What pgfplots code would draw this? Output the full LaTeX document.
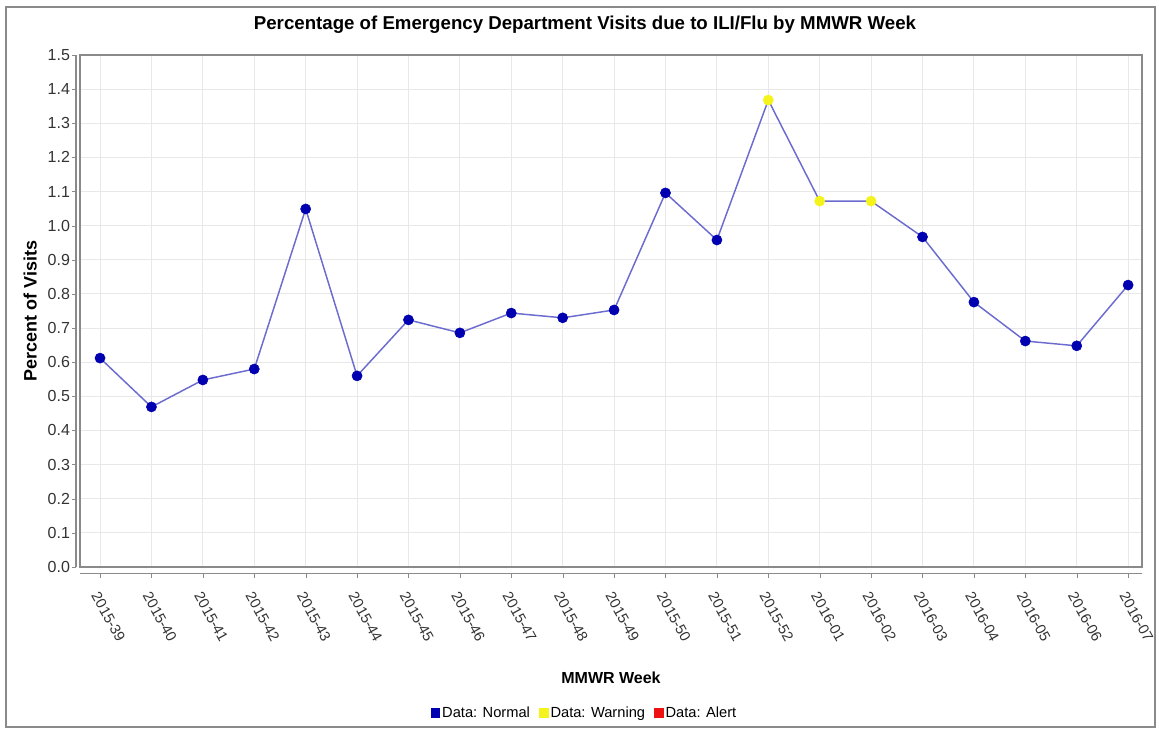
\documentclass[border=0pt]{standalone}
\usepackage{pgfplots}
\pgfplotsset{compat=1.18}
\usepackage{fontspec}
\setmainfont{Liberation Sans}
\definecolor{linec}{HTML}{6B6BD0}
\definecolor{normc}{HTML}{0000B0}
\definecolor{warnc}{HTML}{F4F41C}
\definecolor{alertc}{HTML}{EE1111}
\definecolor{gridc}{HTML}{E8E8E8}
\definecolor{tickc}{HTML}{333333}
\definecolor{framec}{HTML}{8A8A8A}

\pgfplotstableread{
x y
0 0.612
1 0.469
2 0.548
3 0.580
4 1.049
5 0.560
6 0.724
7 0.686
8 0.744
9 0.730
10 0.753
11 1.096
12 0.958
13 1.368
14 1.072
15 1.072
16 0.967
17 0.776
18 0.662
19 0.648
20 0.826
}\alldata

\pgfplotstableread{
x y
0 0.612
1 0.469
2 0.548
3 0.580
4 1.049
5 0.560
6 0.724
7 0.686
8 0.744
9 0.730
10 0.753
11 1.096
12 0.958
16 0.967
17 0.776
18 0.662
19 0.648
20 0.826
}\normaldata

\pgfplotstableread{
x y
13 1.368
14 1.072
15 1.072
}\warndata

\begin{document}
\begin{tikzpicture}
\draw[framec, line width=1.4pt] (4.5pt,-5.5pt) rectangle (866pt,-545pt);
\begin{axis}[
  at={(60pt,-425.25pt)}, anchor=south west,
  scale only axis, width=796.5pt, height=384pt,
  xmin=-0.39, xmax=20.27, ymin=0, ymax=1.5,
  xtick={0,...,20},
  xticklabels={2015-39,2015-40,2015-41,2015-42,2015-43,2015-44,2015-45,2015-46,2015-47,2015-48,2015-49,2015-50,2015-51,2015-52,2016-01,2016-02,2016-03,2016-04,2016-05,2016-06,2016-07},
  ytick={0,0.1,0.2,0.3,0.4,0.5,0.6,0.7,0.8,0.9,1.0,1.1,1.2,1.3,1.4,1.5},
  yticklabel style={/pgf/number format/fixed,/pgf/number format/fixed zerofill,/pgf/number format/precision=1,
     /pgf/number format/assume math mode=true, font=\fontsize{12}{14}\selectfont, text=tickc, xshift=-1pt},
  xticklabel style={xshift=-5.2pt, yshift=-13.7pt, rotate=-61, anchor=west, font=\fontsize{11}{13}\selectfont, text=tickc},
  xtick pos=bottom, ytick pos=left,
  grid=major, grid style={gridc, line width=0.8pt},
  axis line style={framec, line width=1pt},
  tick align=outside, major tick length=3pt,
  x tick style={draw=framec, yshift=-5pt},
  y tick style={draw=framec, xshift=-3pt},
  title={\bfseries Percentage of Emergency Department Visits due to ILI/Flu by MMWR Week},
  title style={at={(axis description cs:0.4755,1.059)}, anchor=center, yshift=-6pt, font=\fontsize{14}{16}\selectfont},
  xlabel={\bfseries MMWR Week},
  xlabel style={at={(axis description cs:0.5,-0.217)}, anchor=center, font=\fontsize{12}{14}\selectfont},
  ylabel={\bfseries Percent of Visits},
  ylabel style={at={(axis description cs:-0.047,0.5)}, anchor=center, font=\fontsize{13.5}{15}\selectfont},
  legend style={at={(axis description cs:0.4755,-0.285)}, anchor=center, draw=none, fill=none,
     legend columns=3, font=\fontsize{11}{13}\selectfont,
     /tikz/every even column/.append style={column sep=5pt}},
  legend cell align=left,
  clip=false,
]
\draw[framec, line width=1pt] ([yshift=-5pt]rel axis cs:0,0) -- ([yshift=-5pt]rel axis cs:1,0);
\draw[framec, line width=1pt] ([xshift=-3pt]rel axis cs:0,0) -- ([xshift=-3pt]rel axis cs:0,1);
\addplot[linec, line width=1.1pt, no marks, forget plot] table[x=x,y=y] {\alldata};
\addplot[only marks, mark=*, mark size=3.8pt, normc, forget plot] table[x=x,y=y] {\normaldata};
\addplot[only marks, mark=*, mark size=3.8pt, warnc, forget plot] table[x=x,y=y] {\warndata};
\addlegendimage{only marks, mark=square*, mark size=3.2pt, normc}
\addlegendentry{Data: Normal}
\addlegendimage{only marks, mark=square*, mark size=3.2pt, warnc}
\addlegendentry{Data: Warning}
\addlegendimage{only marks, mark=square*, mark size=3.2pt, alertc}
\addlegendentry{Data: Alert}
\end{axis}
\pgfresetboundingbox
\useasboundingbox (0,0) rectangle (869.25pt,-546pt);
\end{tikzpicture}
\end{document}
